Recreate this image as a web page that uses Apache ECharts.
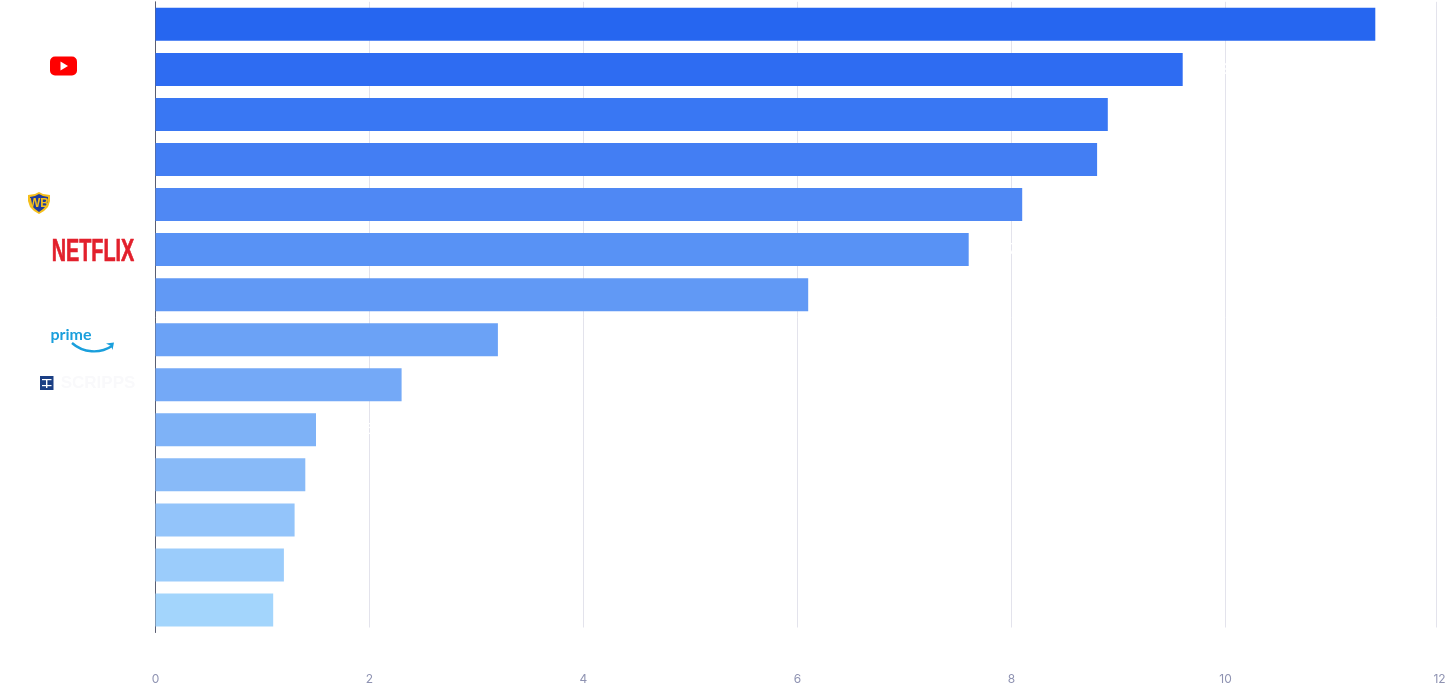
<!DOCTYPE html>
<html>
<head>
<meta charset="utf-8">
<style>html,body{margin:0;padding:0;background:#fff}#c{width:1456px;height:687px}</style>
<script src="https://cdn.jsdelivr.net/npm/echarts@6/dist/echarts.min.js"></script>
</head>
<body>
<div id="c"></div>
<script>
const categories = ['Company 1','YouTube','Company 3','Company 4','Warner Bros.','Netflix','Company 7','Prime Video','Scripps','Company 10','Company 11','Company 12','Company 13','Company 14'];
const values = [11.4,9.6,8.9,8.8,8.1,7.6,6.1,3.2,2.3,1.5,1.4,1.3,1.2,1.1];
const barColors = ['#2666F0','#2E6CF2','#3977F3','#437EF3','#4F88F4','#5892F5','#6199F5','#6BA2F6','#74A9F7','#7EB2F7','#88BAF8','#93C4FA','#9BCCFB','#A3D5FC'];

const chart = echarts.init(document.getElementById('c'), null, {renderer:'canvas'});
const logoGraphics = [
  {type:'rect', z:100, shape:{x:160,y:627.5,width:1296,height:6}, style:{fill:'#ffffff'}},

  {type:'rect', shape:{x:50,y:56.5,width:27,height:19,r:5}, style:{fill:'#ff0000'}},
  {type:'polygon', shape:{points:[[60.5,61.5],[68,66],[60.5,70.5]]}, style:{fill:'#ffffff'}},

  {type:'polygon', shape:{points:[[39,192],[43,194],[50,195],[50,201],[48,207],[44,211],[39,214],[34,211],[30,207],[28,201],[28,195],[35,194]]}, style:{fill:'#f5bf1c'}},
  {type:'polygon', shape:{points:[[39,194],[43,196],[48,197],[48,201],[46,206],[43,209],[39,212],[35,209],[32,206],[30,201],[30,197],[35,196]]}, style:{fill:'#1f3a9a'}},
  {type:'text', x:39, y:203.5, style:{text:'WB',fill:'#f5bf1c',font:'bold 12px "Liberation Sans Narrow","Liberation Sans"',align:'center',verticalAlign:'middle'}},

  {type:'text', x:93, y:252, scaleX:0.64, style:{text:'NETFLIX',fill:'#e2202c',stroke:'#e2202c',lineWidth:0.7,font:'bold 31px "Liberation Sans Narrow","Liberation Sans"',align:'center',verticalAlign:'middle'}},

  {type:'text', x:71, y:335, style:{text:'prime',fill:'#1a9fdc',font:'bold 16px Lato',align:'center',verticalAlign:'middle'}},
  {type:'bezierCurve', shape:{x1:72,y1:343,cpx1:83,cpy1:353,cpx2:100,cpy2:354,x2:112,y2:346}, style:{stroke:'#1a9fdc',lineWidth:2.4,fill:'none'}},
  {type:'polygon', shape:{points:[[106,343.5],[114,342.5],[112.5,350],[111,346]]}, style:{fill:'#1a9fdc'}},

  {type:'rect', shape:{x:40,y:376,width:13.5,height:14}, style:{fill:'#1b3f84'}},
  {type:'rect', shape:{x:42,y:379,width:9.5,height:1.2}, style:{fill:'#ffffff'}},
  {type:'rect', shape:{x:46,y:380,width:1.4,height:8}, style:{fill:'#ffffff'}},
  {type:'rect', shape:{x:42,y:385,width:9.5,height:1.2}, style:{fill:'#ffffff'}},
  {type:'text', x:98, y:383.5, style:{text:'SCRIPPS',fill:'#f9f9fb',font:'bold 17px "Liberation Sans"',align:'center',verticalAlign:'middle'}}
];

chart.setOption({
  animation:false,
  backgroundColor:'#ffffff',
  grid:{left:155.5,right:16.5,top:1.8,bottom:54.5,containLabel:false},
  xAxis:{
    type:'value',min:0,max:12,interval:2,
    axisLine:{show:false},axisTick:{show:false},
    axisLabel:{color:'#8f93b2',fontFamily:'Inter',fontSize:12,margin:41,formatter:v=>String(v)},
    splitLine:{show:true,showMinLine:false,showMaxLine:false,lineStyle:{color:'#e3e3ec',width:1}}
  },
  yAxis:{
    type:'category',inverse:true,data:categories,
    axisLine:{show:true,lineStyle:{color:'#5a5e72',width:1}},
    axisTick:{show:false},axisLabel:{show:false},splitLine:{show:false}
  },
  series:[{
    type:'bar',barWidth:33,
    data:values.map((v,i)=>({value:v,itemStyle:{color:barColors[i]}})),
    label:{show:true,position:'right',distance:40,color:'#ffffff',fontFamily:'Inter',fontSize:14,formatter:'{c}'},
    markLine:{silent:true,symbol:'none',label:{show:false},
      lineStyle:{color:'#e3e3ec',width:1,type:'solid'},data:[{xAxis:11.97}]}
  }],
  graphic:logoGraphics
});
</script>
</body>
</html>
